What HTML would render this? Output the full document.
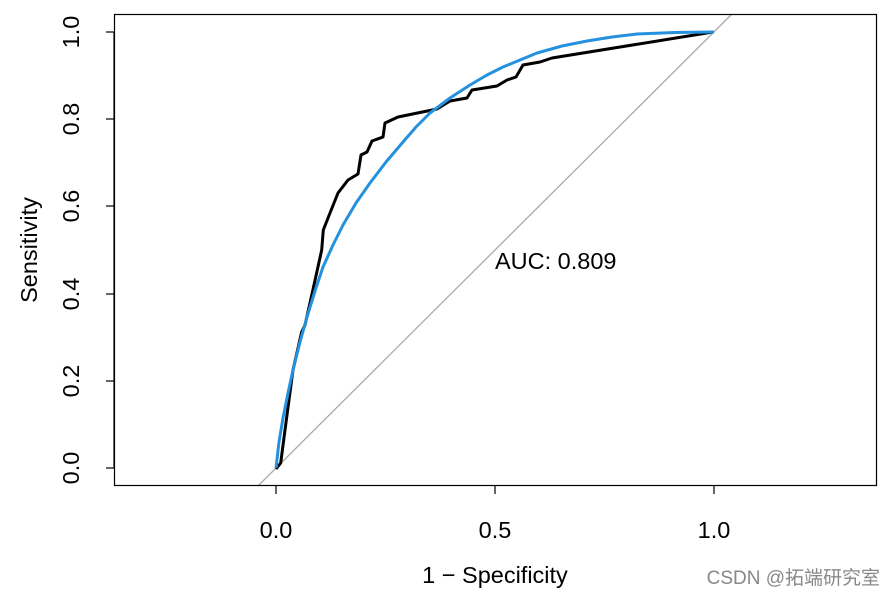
<!DOCTYPE html>
<html><head><meta charset="utf-8"><style>html,body{margin:0;padding:0;background:#fff}svg{display:block}</style></head>
<body>
<svg width="894" height="596" xmlns="http://www.w3.org/2000/svg" font-family="Liberation Sans, sans-serif">
<rect x="0" y="0" width="894" height="596" fill="#fff"/>
<line x1="258" y1="486" x2="732" y2="14" stroke="#aaa" stroke-width="1.3"/>
<polyline fill="none" stroke="#000" stroke-width="3" stroke-linejoin="round" points="276,469 280.7,463 285,430 293,370 301.7,332 305,325 310,303 321.7,250 323.3,230 330,213 338,193 348,180 358,174 361,155 367,152 372,141 383,137 385,123 398,117 437,109 450,101 467,98 472,90 497,86 507,80 516,77 523,65 540,62 552,58 713,32"/>
<polyline fill="none" stroke="#2591de" stroke-width="3" stroke-linejoin="round" points="276,468 279,442 283,418 288,393 293,370 300,342 307,317 315,291 323,267 333,245 343,225 356,203 370,183 386,162 403,142 416,127 430,113 450,98 470,85 487,75 503,67 520,60 537,53 562,46 587,41 612,37 637,34 675,32.5 714,32"/>
<rect x="114.5" y="14.5" width="762" height="471" fill="none" stroke="#000" stroke-width="1.2"/>
<g stroke="#000" stroke-width="1.2">
<line x1="276" y1="486" x2="276" y2="494"/><line x1="495" y1="486" x2="495" y2="494"/><line x1="714" y1="486" x2="714" y2="494"/>
<line x1="114" y1="32" x2="114" y2="468"/>
<line x1="106" y1="468" x2="114" y2="468"/><line x1="106" y1="381" x2="114" y2="381"/><line x1="106" y1="294" x2="114" y2="294"/><line x1="106" y1="206" x2="114" y2="206"/><line x1="106" y1="119" x2="114" y2="119"/><line x1="106" y1="32" x2="114" y2="32"/>
</g>
<g font-size="23.5" text-anchor="middle" fill="#000">
<text x="276" y="538">0.0</text><text x="495" y="538">0.5</text><text x="714" y="538">1.0</text>
<text x="495" y="583">1 − Specificity</text>
<text transform="translate(79,468) rotate(-90)">0.0</text>
<text transform="translate(79,381) rotate(-90)">0.2</text>
<text transform="translate(79,294) rotate(-90)">0.4</text>
<text transform="translate(79,206) rotate(-90)">0.6</text>
<text transform="translate(79,119) rotate(-90)">0.8</text>
<text transform="translate(79,32) rotate(-90)">1.0</text>
<text transform="translate(37,250) rotate(-90)">Sensitivity</text>
</g>
<text x="495" y="269" font-size="23.5" fill="#000">AUC: 0.809</text>
<text x="880" y="584" font-size="19" fill="#888" text-anchor="end" font-family="Liberation Sans, Noto Sans CJK SC, sans-serif">CSDN @拓端研究室</text>
</svg>
</body></html>
